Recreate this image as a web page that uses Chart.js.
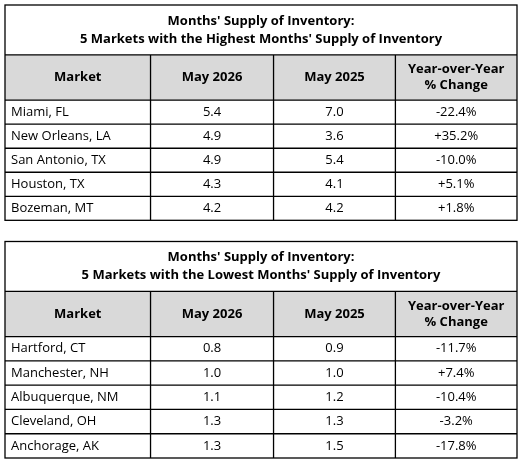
<!DOCTYPE html>
<html><head><meta charset="utf-8">
<script src="https://cdn.jsdelivr.net/npm/chart.js@4"></script>
<style>html,body{margin:0;padding:0;background:#fff}#w{width:529px;height:467px}</style>
</head><body><div id="w"><canvas id="c"></canvas></div>
<script>
const headers = ["Market", "May 2026", "May 2025", "Year-over-Year|% Change"];
const titleHigh = ["Months' Supply of Inventory:", "5 Markets with the Highest Months' Supply of Inventory"];
const titleLow = ["Months' Supply of Inventory:", "5 Markets with the Lowest Months' Supply of Inventory"];
const highMarkets = ["Miami, FL", "New Orleans, LA", "San Antonio, TX", "Houston, TX", "Bozeman, MT"];
const highMay2026 = [5.4, 4.9, 4.9, 4.3, 4.2];
const highMay2025 = [7.0, 3.6, 5.4, 4.1, 4.2];
const highYoY = ["-22.4%", "+35.2%", "-10.0%", "+5.1%", "+1.8%"];
const lowMarkets = ["Hartford, CT", "Manchester, NH", "Albuquerque, NM", "Cleveland, OH", "Anchorage, AK"];
const lowMay2026 = [0.8, 1.0, 1.1, 1.3, 1.3];
const lowMay2025 = [0.9, 1.0, 1.2, 1.3, 1.5];
const lowYoY = ["-11.7%", "+7.4%", "-10.4%", "-3.2%", "-17.8%"];

// layout in scale units
const colEdges = [0, 1.137, 2.098, 3.05, 4];
const tables = [
  {top: 0, titleH: 2.1, headH: 1.9, rowH: 1.01, title: titleHigh, m: highMarkets, a: highMay2026, b: highMay2025, c: highYoY},
  {top: 9.94, titleH: 2.1, headH: 1.9, rowH: 1.02, title: titleLow, m: lowMarkets, a: lowMay2026, b: lowMay2025, c: lowYoY}
];
const FONT = "'Open Sans', 'Liberation Sans', sans-serif";

const pts = [];
tables.forEach(t => {
  const r0 = t.top + t.titleH + t.headH;
  t.m.forEach((m, i) => {
    const y = r0 + (i + 0.5) * t.rowH;
    [m, t.a[i].toFixed(1), t.b[i].toFixed(1), t.c[i]].forEach((v, j) => pts.push({x: (colEdges[j] + colEdges[j+1]) / 2, y, label: v, col: j}));
  });
});

const tablePlugin = {
  id: 'tbl',
  afterDatasetsDraw(chart) {
    const {ctx, scales: {x, y}} = chart;
    const X = v => x.getPixelForValue(v), Y = v => y.getPixelForValue(v);
    ctx.save();
    tables.forEach(t => {
      const yT = t.top, yH = t.top + t.titleH, yR = yH + t.headH, yB = yR + 5 * t.rowH;
      ctx.fillStyle = '#d9d9d9';
      ctx.fillRect(X(0), Y(yH), X(4) - X(0), Y(yR) - Y(yH));
      ctx.strokeStyle = '#000'; ctx.lineWidth = 1.3;
      ctx.strokeRect(X(0), Y(yT), X(4) - X(0), Y(yB) - Y(yT));
      ctx.beginPath();
      [yH, yR].forEach(v => { ctx.moveTo(X(0), Y(v)); ctx.lineTo(X(4), Y(v)); });
      for (let i = 1; i < 5; i++) { ctx.moveTo(X(0), Y(yR + i * t.rowH)); ctx.lineTo(X(4), Y(yR + i * t.rowH)); }
      for (let j = 1; j < 4; j++) { ctx.moveTo(X(colEdges[j]), Y(yH)); ctx.lineTo(X(colEdges[j]), Y(yB)); }
      ctx.stroke();
      ctx.fillStyle = '#000'; ctx.textAlign = 'center'; ctx.textBaseline = 'middle';
      ctx.font = 'bold 13px ' + FONT;
      const tc = Y(yT + t.titleH / 2);
      ctx.fillText(t.title[0], X(2), tc - 9);
      ctx.fillText(t.title[1], X(2), tc + 9);
      headers.forEach((h, j) => {
        const cx = X((colEdges[j] + colEdges[j+1]) / 2), cy = Y(yH + t.headH / 2);
        const lines = h.split('|');
        if (lines.length === 1) ctx.fillText(h, cx, cy);
        else { ctx.fillText(lines[0], cx, cy - 8); ctx.fillText(lines[1], cx, cy + 8); }
      });
    });
    ctx.font = '13px ' + FONT;
    pts.forEach(p => {
      if (p.col === 0) { ctx.textAlign = 'left'; ctx.fillText(p.label, X(colEdges[0]) + 6, Y(p.y)); }
      else { ctx.textAlign = 'center'; ctx.fillText(p.label, X(p.x), Y(p.y)); }
    });
    ctx.restore();
  }
};

new Chart(document.getElementById('c'), {
  type: 'scatter',
  data: {datasets: [{data: pts, pointRadius: 0}]},
  options: {
    responsive: true, maintainAspectRatio: false, animation: false,
    layout: {padding: {left: 5, right: 12, top: 5, bottom: 9}},
    plugins: {legend: {display: false}, tooltip: {enabled: false}},
    scales: {
      x: {type: 'linear', min: 0, max: 4, display: false},
      y: {type: 'linear', min: 0, max: 19.04, reverse: true, display: false}
    }
  },
  plugins: [tablePlugin]
});
</script></body></html>
